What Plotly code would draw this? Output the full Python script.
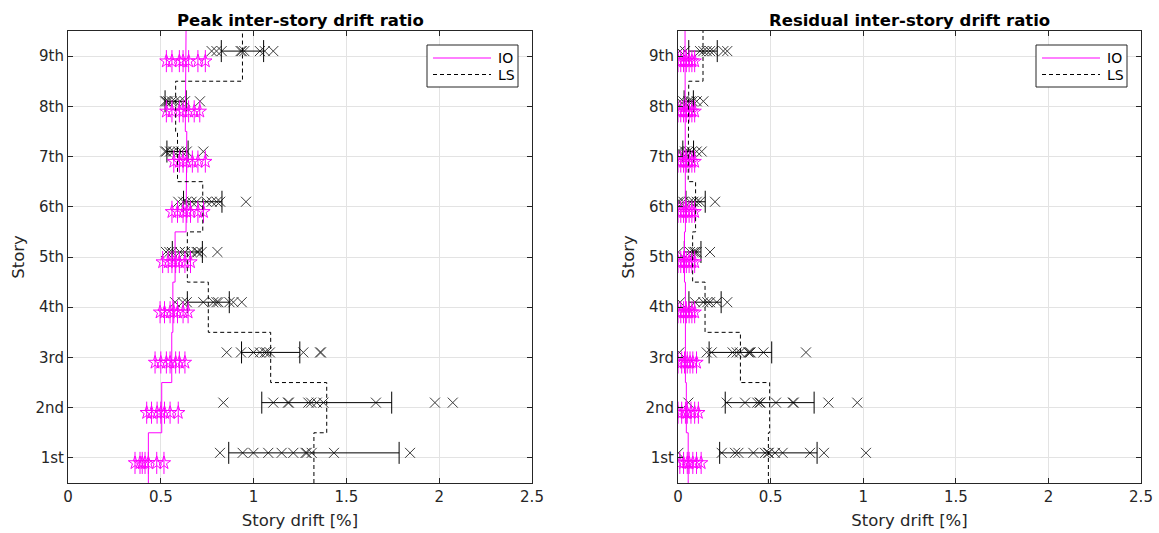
import plotly.graph_objects as go

stories = [1, 2, 3, 4, 5, 6, 7, 8, 9]
story_labels = ["1st", "2nd", "3rd", "4th", "5th", "6th", "7th", "8th", "9th"]

# ---------------- Peak inter-story drift ratio ----------------
peak_x = [
    [0.819, 0.941, 0.999, 1.079, 1.151, 1.214, 1.28, 1.286, 1.313, 1.433, 1.843],
    [0.837, 1.106, 1.185, 1.19, 1.295, 1.31, 1.340, 1.376, 1.659, 1.977, 2.073],
    [0.855, 0.932, 0.999, 1.034, 1.06, 1.070, 1.088, 1.268, 1.358, 1.363],
    [0.577, 0.618, 0.64, 0.729, 0.783, 0.80, 0.810, 0.87, 0.891, 0.936],
    [0.528, 0.546, 0.56, 0.603, 0.630, 0.666, 0.693, 0.70, 0.72, 0.805],
    [0.594, 0.621, 0.639, 0.666, 0.693, 0.747, 0.774, 0.801, 0.82, 0.959],
    [0.523, 0.53, 0.55, 0.567, 0.594, 0.612, 0.64, 0.729],
    [0.523, 0.53, 0.54, 0.559, 0.577, 0.603, 0.630, 0.711],
    [0.774, 0.80, 0.828, 0.93, 0.936, 0.95, 1.034, 1.06, 1.106],
]
peak_ls_mean = [1.325, 1.394, 1.092, 0.756, 0.643, 0.726, 0.59, 0.58, 0.94]
peak_ls_std = [0.459, 0.35, 0.157, 0.113, 0.081, 0.1035, 0.057, 0.057, 0.114]
peak_io = [0.433, 0.505, 0.559, 0.565, 0.577, 0.636, 0.64, 0.632, 0.636]
peak_stars = [
    [0.361, 0.388, 0.40, 0.415, 0.433, 0.478, 0.517],
    [0.424, 0.45, 0.48, 0.50, 0.52, 0.55, 0.594],
    [0.469, 0.50, 0.53, 0.55, 0.58, 0.60, 0.63],
    [0.496, 0.52, 0.55, 0.57, 0.59, 0.62, 0.647],
    [0.51, 0.54, 0.56, 0.58, 0.60, 0.63, 0.66],
    [0.56, 0.59, 0.62, 0.64, 0.66, 0.70, 0.73],
    [0.57, 0.60, 0.62, 0.64, 0.67, 0.70, 0.74],
    [0.53, 0.56, 0.60, 0.62, 0.65, 0.68, 0.71],
    [0.53, 0.56, 0.60, 0.62, 0.65, 0.70, 0.74],
]

# ---------------- Residual inter-story drift ratio ----------------
res_x = [
    [0.002, 0.236, 0.308, 0.326, 0.407, 0.470, 0.486, 0.49, 0.524, 0.565, 0.713, 0.788, 1.015],
    [0.056, 0.263, 0.362, 0.428, 0.441, 0.445, 0.529, 0.62, 0.625, 0.812, 0.968],
    [0.007, 0.155, 0.182, 0.295, 0.317, 0.335, 0.38, 0.387, 0.392, 0.461, 0.691],
    [0.011, 0.092, 0.137, 0.158, 0.173, 0.209, 0.266],
    [0.002, 0.065, 0.083, 0.092, 0.101, 0.173],
    [0.0, 0.011, 0.029, 0.065, 0.083, 0.101, 0.119, 0.2],
    [0.0, 0.011, 0.038, 0.056, 0.074, 0.101, 0.128],
    [0.011, 0.029, 0.056, 0.068, 0.079, 0.101, 0.137],
    [0.011, 0.038, 0.119, 0.137, 0.155, 0.173, 0.191, 0.245, 0.266],
]
res_ls_mean = [0.488, 0.495, 0.337, 0.146, 0.079, 0.095, 0.055, 0.058, 0.135]
res_ls_std = [0.263, 0.24, 0.169, 0.087, 0.045, 0.052, 0.029, 0.025, 0.077]
res_io = [0.055, 0.045, 0.04, 0.04, 0.035, 0.04, 0.04, 0.038, 0.038]
res_stars = [
    [0.01, 0.03, 0.05, 0.06, 0.08, 0.10, 0.125],
    [0.0, 0.02, 0.04, 0.05, 0.07, 0.09, 0.11],
    [0.0, 0.02, 0.035, 0.05, 0.065, 0.08, 0.1],
    [0.0, 0.015, 0.03, 0.045, 0.06, 0.075, 0.09],
    [0.0, 0.015, 0.03, 0.045, 0.06, 0.075, 0.09],
    [0.0, 0.015, 0.03, 0.045, 0.06, 0.075, 0.09],
    [0.0, 0.015, 0.03, 0.045, 0.06, 0.075, 0.09],
    [0.0, 0.015, 0.03, 0.045, 0.06, 0.075, 0.09],
    [0.0, 0.015, 0.03, 0.045, 0.06, 0.075, 0.09],
]

legend_names = ["IO", "LS"]

MAGENTA = "#ff00ff"
AXC = "#262626"
FONT = "DejaVu Sans"
DASH = "4px,3px"

fig = go.Figure()


def add_panel(xs, ls_mean, ls_std, io, stars, xa, ya):
    px, py = [], []
    for s, vals in zip(stories, xs):
        px += vals
        py += [s + 0.1] * len(vals)
    fig.add_trace(go.Scatter(
        x=px, y=py, mode="markers", xaxis=xa, yaxis=ya, showlegend=False,
        marker=dict(symbol="x-thin", size=10, color="#3a3a3a",
                    line=dict(width=1, color="#3a3a3a")),
        hoverinfo="skip"))
    fig.add_trace(go.Scatter(
        x=ls_mean, y=[s + 0.1 for s in stories], mode="markers",
        xaxis=xa, yaxis=ya, showlegend=False,
        marker=dict(size=1, color="rgba(0,0,0,0)"),
        error_x=dict(type="data", array=ls_std, visible=True,
                     color="#000000", thickness=1, width=11),
        hoverinfo="skip"))
    sx, sy = [], []
    for s, vals in zip(stories, stars):
        sx += vals
        sy += [s - 0.1] * len(vals)
    fig.add_trace(go.Scatter(
        x=sx, y=sy, mode="markers", xaxis=xa, yaxis=ya, showlegend=False,
        marker=dict(symbol="star-open", size=10, color=MAGENTA,
                    line=dict(width=1, color=MAGENTA)),
        error_y=dict(type="constant", value=0.22, visible=True,
                     color=MAGENTA, thickness=1, width=0),
        hoverinfo="skip"))
    iox, ioy, lsx, lsy = [], [], [], []
    for s, a, b in zip(stories, io, ls_mean):
        iox += [a, a]
        ioy += [s - 0.5, s + 0.5]
        lsx += [b, b]
        lsy += [s - 0.5, s + 0.5]
    fig.add_trace(go.Scatter(
        x=iox, y=ioy, mode="lines", name=legend_names[0], xaxis=xa, yaxis=ya,
        showlegend=False, line=dict(color=MAGENTA, width=1), hoverinfo="skip"))
    fig.add_trace(go.Scatter(
        x=lsx, y=lsy, mode="lines", name=legend_names[1], xaxis=xa, yaxis=ya,
        showlegend=False, line=dict(color="#000000", width=1, dash=DASH), hoverinfo="skip"))


add_panel(peak_x, peak_ls_mean, peak_ls_std, peak_io, peak_stars, "x", "y")
add_panel(res_x, res_ls_mean, res_ls_std, res_io, res_stars, "x2", "y2")

L, R, T, B = 68, 18, 31, 50
W, H = 1159, 533
pw = W - L - R
ph = H - T - B
d1 = [0, (532 - L) / pw]
d2 = [(678 - L) / pw, 1]


def px2paper(x, y):
    return (x - L) / pw, 1 - (y - T) / ph


xcommon = dict(range=[0, 2.5], tickvals=[0, 0.5, 1, 1.5, 2, 2.5],
               ticktext=["0", "0.5", "1", "1.5", "2", "2.5"],
               showgrid=True, gridcolor="#e3e3e3", gridwidth=1,
               showline=True, linecolor=AXC, linewidth=1, mirror="ticks",
               ticks="inside", ticklen=5, tickcolor=AXC, automargin=False,
               zeroline=False, tickfont=dict(family=FONT, size=15, color=AXC),
               title=dict(text="Story drift [%]", font=dict(family=FONT, size=16.5, color=AXC),
                          standoff=9))
ycommon = dict(range=[0.5, 9.5], tickvals=stories, ticktext=story_labels,
               showgrid=True, gridcolor="#e3e3e3", gridwidth=1,
               showline=True, linecolor=AXC, linewidth=1, mirror="ticks",
               ticks="inside", ticklen=5, tickcolor=AXC, automargin=False,
               zeroline=False, tickfont=dict(family=FONT, size=15, color=AXC),
               title=dict(text="Story", font=dict(family=FONT, size=16.5, color=AXC),
                          standoff=6))

shapes = []
annotations = [
    dict(text="<b>Peak inter-story drift ratio</b>", x=(d1[0] + d1[1]) / 2, y=1,
         xref="paper", yref="paper", xanchor="center", yanchor="bottom",
         yshift=-1, showarrow=False, font=dict(family=FONT, size=16.5, color="#000000")),
    dict(text="<b>Residual inter-story drift ratio</b>", x=(d2[0] + d2[1]) / 2, y=1,
         xref="paper", yref="paper", xanchor="center", yanchor="bottom",
         yshift=-1, showarrow=False, font=dict(family=FONT, size=16.5, color="#000000")),
]

# custom legend boxes (right edge, top, bottom in px)
for right in (518, 1127):
    x0, y0 = px2paper(right - 91, 45)
    x1, y1 = px2paper(right, 87)
    shapes.append(dict(type="rect", xref="paper", yref="paper", x0=x0, y0=y0, x1=x1, y1=y1,
                       line=dict(color=AXC, width=1), fillcolor="white", layer="above"))
    for i, (ly, col, dash) in enumerate([(58, MAGENTA, "solid"), (74.5, "#000000", DASH)]):
        lx0, lyp = px2paper(right - 85, ly)
        lx1, _ = px2paper(right - 27, ly)
        shapes.append(dict(type="line", xref="paper", yref="paper", x0=lx0, x1=lx1,
                           y0=lyp, y1=lyp, line=dict(color=col, width=1, dash=dash),
                           layer="above"))
        tx, _ = px2paper(right - 22, ly)
        annotations.append(dict(text=legend_names[i], x=tx, y=lyp, xref="paper", yref="paper",
                                xanchor="left", yanchor="middle", showarrow=False,
                                font=dict(family=FONT, size=14, color="#000000")))

fig.update_layout(
    width=W, height=H,
    margin=dict(l=L, r=R, t=T, b=B, autoexpand=False),
    paper_bgcolor="white", plot_bgcolor="white",
    font=dict(family=FONT),
    showlegend=False,
    xaxis=dict(domain=d1, anchor="y", **xcommon),
    yaxis=dict(domain=[0, 1], anchor="x", **ycommon),
    xaxis2=dict(domain=d2, anchor="y2", **xcommon),
    yaxis2=dict(domain=[0, 1], anchor="x2", **ycommon),
    shapes=shapes,
    annotations=annotations,
)

fig.write_html("out.html")
